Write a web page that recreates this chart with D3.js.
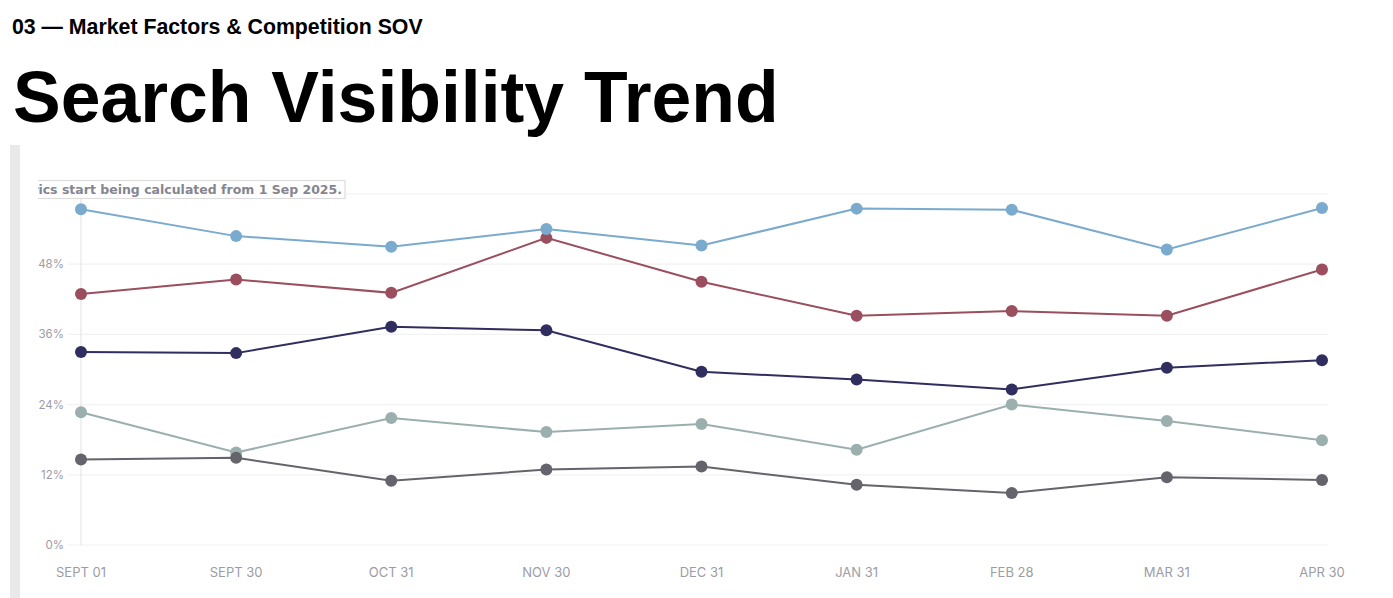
<!DOCTYPE html>
<html><head><meta charset="utf-8">
<script src="https://cdn.jsdelivr.net/npm/d3@7"></script>
<style>
html,body{margin:0;padding:0;background:#fff;overflow:hidden;}
svg{display:block;}
</style></head>
<body>
<svg id="c" width="1393" height="598"></svg>
<script>
const categories = ["SEPT 01","SEPT 30","OCT 31","NOV 30","DEC 31","JAN 31","FEB 28","MAR 31","APR 30"];
const seriesBlue  = [57.4, 52.8, 51.0, 54.0, 51.2, 57.5, 57.3, 50.5, 57.6];
const seriesRed   = [42.9, 45.4, 43.1, 52.5, 45.0, 39.2, 40.0, 39.2, 47.1];
const seriesNavy  = [33.0, 32.8, 37.3, 36.7, 29.6, 28.3, 26.6, 30.3, 31.6];
const seriesSage  = [22.7, 15.8, 21.7, 19.3, 20.7, 16.3, 24.0, 21.2, 17.9];
const seriesGray  = [14.6, 14.9, 11.0, 12.9, 13.4, 10.3, 8.9, 11.6, 11.1];
const yTicks = [0, 12, 24, 36, 48, 60];
const seriesList = [
  {values: seriesSage, color: "#9aafae"},
  {values: seriesGray, color: "#65636c"},
  {values: seriesNavy, color: "#302d5f"},
  {values: seriesRed,  color: "#9a4e5e"},
  {values: seriesBlue, color: "#7aaacd"}
];

const svg = d3.select("#c");

svg.append("text").attr("x",12).attr("y",34)
  .attr("font-family","Liberation Sans, Arial, sans-serif").attr("font-weight","bold")
  .attr("font-size",21.3).attr("fill","#000").text("03 — Market Factors & Competition SOV");
svg.append("text").attr("x",13).attr("y",122)
  .attr("font-family","Liberation Sans, Arial, sans-serif").attr("font-weight","bold")
  .attr("font-size",71.5).attr("fill","#000").text("Search Visibility Trend");

svg.append("rect").attr("x",10).attr("y",145).attr("width",10).attr("height",453).attr("fill","#e9e9e9");

const x = d3.scalePoint().domain(categories).range([81,1322]);
const y = d3.scaleLinear().domain([0,60]).range([545,194]);

const g = svg.append("g");
// gridlines
g.selectAll("line.grid").data(yTicks).join("line")
  .attr("x1",68).attr("x2",1328).attr("y1",d=>y(d)).attr("y2",d=>y(d))
  .attr("stroke","#f2f2f4").attr("stroke-width",1.2);
// vertical axis line
g.append("line").attr("x1",x(categories[0])).attr("x2",x(categories[0]))
  .attr("y1",y(60)).attr("y2",y(0)).attr("stroke","#e6e6ea").attr("stroke-width",1.2);

// y tick labels (the top one is hidden behind the note box)
g.selectAll("text.yt").data(yTicks.filter(d=>d<60)).join("text")
  .attr("x",64).attr("y",d=>y(d)+4).attr("text-anchor","end")
  .attr("font-family","Inter, Roboto, sans-serif").attr("font-size",11.5)
  .attr("fill","#9c9ca6").text(d=>d+"%");

// x tick labels
g.selectAll("text.xt").data(categories).join("text")
  .attr("x",d=>x(d)).attr("y",577).attr("text-anchor","middle")
  .attr("font-family","Inter, Roboto, sans-serif").attr("font-size",13)
  .attr("fill","#9c9ca6").text(d=>d);

const line = d3.line().x((d,i)=>x(categories[i])).y(d=>y(d));
seriesList.forEach(s=>{
  g.append("path").datum(s.values).attr("d",line).attr("fill","none")
    .attr("stroke",s.color).attr("stroke-width",2);
  g.selectAll(null).data(s.values).join("circle")
    .attr("cx",(d,i)=>x(categories[i])).attr("cy",d=>y(d)).attr("r",6)
    .attr("fill",s.color);
});

// annotation box (clipped on the left)
const defs = svg.append("defs");
defs.append("clipPath").attr("id","annClip").append("rect")
  .attr("x",38).attr("y",170).attr("width",400).attr("height",40);
const ann = svg.append("g").attr("clip-path","url(#annClip)");
ann.append("rect").attr("x",-40).attr("y",180.5).attr("width",385).attr("height",18)
  .attr("fill","#fff").attr("stroke","#dcdcdc").attr("stroke-width",1.2);
ann.append("text").attr("x",342).attr("y",194).attr("text-anchor","end")
  .attr("font-family","DejaVu Sans, sans-serif").attr("font-weight","bold")
  .attr("font-size",12.5).attr("fill","#85858f")
  .text("Metrics start being calculated from 1 Sep 2025.");
</script>
</body></html>
